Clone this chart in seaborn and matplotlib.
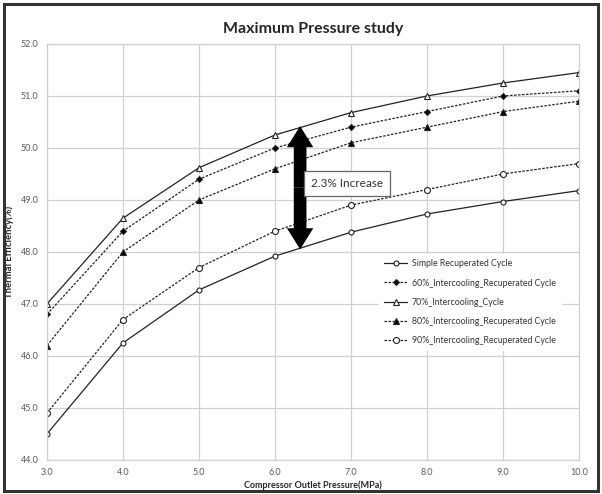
import matplotlib.pyplot as plt
import seaborn as sns
import pandas as pd
from matplotlib.patches import Rectangle

# Compressor outlet pressure (MPa)
pressure = [3.0, 4.0, 5.0, 6.0, 7.0, 8.0, 9.0, 10.0]

# Thermal efficiency (%) for each cycle
simple_recup = [44.5, 46.25, 47.27, 47.92, 48.38, 48.73, 48.97, 49.18]
ic60_recup = [46.8, 48.4, 49.4, 50.0, 50.4, 50.7, 51.0, 51.1]
ic70 = [47.0, 48.65, 49.62, 50.25, 50.68, 51.0, 51.25, 51.45]
ic80_recup = [46.2, 48.0, 49.0, 49.6, 50.1, 50.4, 50.7, 50.9]
ic90_recup = [44.9, 46.7, 47.7, 48.4, 48.9, 49.2, 49.5, 49.7]

labels = ['Simple Recuperated Cycle',
          '60%_Intercooling_Recuperated Cycle',
          '70%_Intercooling_Cycle',
          '80%_Intercooling_Recuperated Cycle',
          '90%_Intercooling_Recuperated Cycle']
series = [simple_recup, ic60_recup, ic70, ic80_recup, ic90_recup]

# arrow annotation
arrow_x = 6.33
arrow_low, arrow_high = 48.05, 50.42
note_text = '2.3% Increase'

sns.set_style('white')
plt.rcParams['font.family'] = ['Lato', 'DejaVu Sans']

fig = plt.figure(figsize=(6.02, 4.94), dpi=100)
ax = fig.add_axes([0.078, 0.069, 0.884, 0.842])

dash = (0, (2, 1.2))
styles = [
    dict(ls='-', marker='o', mfc='white', ms=3.6),
    dict(ls=dash, marker='D', mfc='black', ms=3.0),
    dict(ls='-', marker='^', mfc='white', ms=4.0),
    dict(ls=dash, marker='^', mfc='black', ms=4.0),
    dict(ls=dash, marker='o', mfc='white', ms=4.3),
]

for vals, lab, st in zip(series, labels, styles):
    df = pd.DataFrame({'p': pressure, 'eff': vals})
    sns.lineplot(data=df, x='p', y='eff', ax=ax, color='#222222', lw=0.9,
                 linestyle=st['ls'], marker=st['marker'], markersize=st['ms'],
                 markerfacecolor=st['mfc'], markeredgecolor='#222222',
                 markeredgewidth=0.8, label=lab)

ax.set_xlim(3.0, 10.0)
ax.set_ylim(44.0, 52.0)
ax.set_xticks(pressure)
ax.set_xticklabels([f'{p:.1f}' for p in pressure])
ax.set_yticks([44, 45, 46, 47, 48, 49, 50, 51, 52])
ax.set_yticklabels([f'{v:.1f}' for v in range(44, 53)])
ax.tick_params(labelsize=6.5, colors='#595959', length=0, pad=6)
ax.grid(True, color='#d0d0d0', lw=0.9)
for s in ax.spines.values():
    s.set_color('#d0d0d0')
    s.set_linewidth(0.9)

ax.set_title('Maximum Pressure study', fontsize=11.5, fontweight='bold', pad=8)
ax.set_xlabel('Compressor Outlet Pressure(MPa)', fontsize=6.5, fontweight='bold', labelpad=2)
ax.set_ylabel('Thermal Efficiency(%)', fontsize=6.8, fontweight='bold', labelpad=5)

# double-headed arrow: two 'simple' arrows out from the middle
arrow_mid = (arrow_low + arrow_high) / 2
for end in (arrow_high, arrow_low):
    ax.annotate('', xy=(arrow_x, end), xytext=(arrow_x, arrow_mid),
                arrowprops=dict(arrowstyle='simple,head_length=0.8,head_width=1.0,tail_width=0.48',
                                fc='black', ec='none', lw=0, mutation_scale=19,
                                shrinkA=0, shrinkB=0))
ax.text(6.47, 49.32, note_text, fontsize=8.5, color='#333333', va='center',
        bbox=dict(boxstyle='square,pad=0.6', fc='white', ec='#666666', lw=0.9))

leg = ax.legend(loc='upper left', bbox_to_anchor=(0.615, 0.505), fontsize=6.3,
                frameon=True, facecolor='white', edgecolor='white', framealpha=1,
                handlelength=2.7, handletextpad=0.5, labelspacing=1.15, borderpad=0.6)
for t in leg.get_texts():
    t.set_color('#333333')

# outer frame
fig.patches.append(Rectangle((0.006, 0.006), 0.988, 0.986, transform=fig.transFigure,
                             fill=False, ec='#333333', lw=2.2))

fig.savefig('out.png', dpi=100)
